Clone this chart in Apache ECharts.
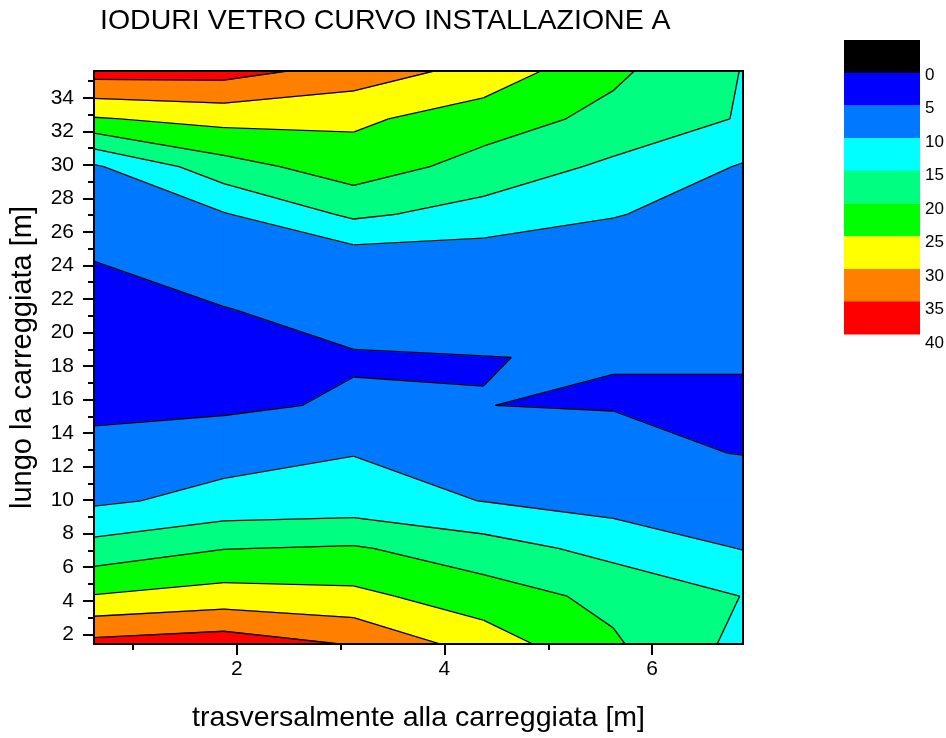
<!DOCTYPE html>
<html>
<head>
<meta charset="UTF-8">
<title>IODURI VETRO CURVO INSTALLAZIONE A</title>
<script src="https://cdn.jsdelivr.net/npm/echarts@6/dist/echarts.min.js"></script>
<style>
  html, body { margin: 0; padding: 0; background: #fff; }
  #contour { width: 946px; height: 738px; }
</style>
</head>
<body>
<div id="contour"></div>
<script>
// measurement grid: across the road (x) and along the road (y), metres
var xCols = [0.625, 1.875, 3.125, 4.375, 5.625, 6.875];
var yRows = [1.42, 4.27, 7.12, 9.96, 12.81, 15.66, 18.51, 21.36, 24.2, 27.05, 29.9, 32.75, 35.6];
// values, one row per yRows entry (bottom to top), one column per xCols entry
var zRows = [
  [36.5, 37.9, 34.66, 27.68, 20.64, 13.6],
  [25.3, 27.05, 26.25, 22.3, 18.74, 14.9],
  [16.8, 19.85, 20.5, 17.22, 13.38, 9.82],
  [9.16, 11.5, 12.03, 9.9, 8.01, 9.5],
  [6.5, 8.3, 9.86, 7.5, 6.47, 4.8],
  [3.86, 4.1, 5.58, 5.02, 4.8, 4.8],
  [3.5, 3.8, 4.6, 4.97, 5.11, 5.11],
  [4.0, 4.82, 6.93, 5.83, 6.0, 6.0],
  [4.95, 7.5, 6.7, 6.9, 6.5, 6.5],
  [7.2, 9.65, 15.9, 13.1, 10.3, 7.5],
  [9.35, 17.97, 22.65, 18.15, 14.03, 9.62],
  [24.6, 26.6, 25.92, 22.5, 18.57, 14.6],
  [37.2, 37.0, 32.93, 28.2, 21.0, 14.82]
];
var levels = [0, 5, 10, 15, 20, 25, 30, 35, 40];
var bandColors = ['#000000', '#0000ff', '#0078ff', '#00ffff', '#00ff80', '#00ff00', '#ffff00', '#ff8000', '#ff0000'];
var xTicks = [2, 4, 6];
var xMinorTicks = [1, 3, 5];
var yTicks = [2, 4, 6, 8, 10, 12, 14, 16, 18, 20, 22, 24, 26, 28, 30, 32, 34];
var yMinorTicks = [3, 5, 7, 9, 11, 13, 15, 17, 19, 21, 23, 25, 27, 29, 31, 33, 35];

var FONT = 'Liberation Sans';

// one item per grid cell (for the isolines)
var cells = [];
for (var j = 0; j < yRows.length - 1; j++) {
  for (var i = 0; i < xCols.length - 1; i++) {
    cells.push([xCols[i], yRows[j], i, j]);
  }
}
// one item per filled layer: -1 = everything, k = region above levels[k]
var layers = [[-1]];
for (var k = 0; k < levels.length - 1; k++) layers.push([k]);

function cellPoly(i, j) {
  return [
    [xCols[i], yRows[j], zRows[j][i]],
    [xCols[i + 1], yRows[j], zRows[j][i + 1]],
    [xCols[i + 1], yRows[j + 1], zRows[j + 1][i + 1]],
    [xCols[i], yRows[j + 1], zRows[j + 1][i]]
  ];
}

// keep the part of the cell where z >= t, edges linear (marching squares style)
function clipAbove(poly, t) {
  var out = [], cross = [];
  for (var k = 0; k < poly.length; k++) {
    var a = poly[k], b = poly[(k + 1) % poly.length];
    var ina = a[2] >= t, inb = b[2] >= t;
    if (ina) out.push(a);
    if (ina !== inb) {
      var f = (t - a[2]) / (b[2] - a[2]);
      var p = [a[0] + f * (b[0] - a[0]), a[1] + f * (b[1] - a[1]), t];
      out.push(p);
      cross.push({ p: p, leaving: ina });
    }
  }
  var segs = [];
  for (var c = 0; c < cross.length; c++) {
    if (cross[c].leaving) segs.push([cross[c].p, cross[(c + 1) % cross.length].p]);
  }
  return { poly: out, segs: segs };
}

function toPx(api, pts) {
  return pts.map(function (p) { return api.coord([p[0], p[1]]); });
}

function renderLayer(params, api) {
  var k = api.value(0);
  var color = bandColors[k + 1];
  var children = [];
  for (var j = 0; j < yRows.length - 1; j++) {
    for (var i = 0; i < xCols.length - 1; i++) {
      var cell = cellPoly(i, j);
      var pts;
      if (k < 0) {
        var zmin = Math.min(cell[0][2], cell[1][2], cell[2][2], cell[3][2]);
        if (zmin >= levels[0]) continue;
        pts = cell;
      } else {
        pts = clipAbove(cell, levels[k]).poly;
        if (pts.length < 3) continue;
      }
      children.push({ type: 'polygon', shape: { points: toPx(api, pts) },
        style: { fill: color, stroke: color, lineWidth: 1.2, lineJoin: 'round' } });
    }
  }
  return { type: 'group', children: children };
}

function renderLines(params, api) {
  var cell = cellPoly(api.value(2), api.value(3));
  var children = [];
  for (var k = 0; k < levels.length; k++) {
    clipAbove(cell, levels[k]).segs.forEach(function (s) {
      children.push({ type: 'polyline', shape: { points: toPx(api, s) },
        style: { stroke: '#000', lineWidth: 1.3, fill: null } });
    });
  }
  return { type: 'group', children: children };
}

// colour scale on the right
var scaleGraphic = [];
bandColors.forEach(function (c, k) {
  scaleGraphic.push({ type: 'rect', shape: { x: 844, y: 40 + k * 32.7, width: 76, height: 33 },
    style: { fill: c }, silent: true });
});
levels.forEach(function (v, k) {
  scaleGraphic.push({ type: 'text', x: 925, y: 75 + k * 33.5, silent: true,
    style: { text: String(v), fontSize: 17, fontFamily: FONT, fill: '#000', verticalAlign: 'middle', align: 'left' } });
});

function frameAxis(pos) {
  return {
    type: 'value', position: pos, z: 10,
    min: pos === 'top' ? xCols[0] : yRows[0],
    max: pos === 'top' ? xCols[xCols.length - 1] : yRows[yRows.length - 1],
    axisLine: { show: true, onZero: false, lineStyle: { color: '#000', width: 2 } },
    axisTick: { show: false }, axisLabel: { show: false }, splitLine: { show: false }
  };
}

var chart = echarts.init(document.getElementById('contour'));
var option = {
  animation: false,
  backgroundColor: '#fff',
  title: {
    text: 'IODURI VETRO CURVO INSTALLAZIONE A',
    left: 100, top: 7, padding: 0,
    textStyle: { fontFamily: FONT, fontSize: 28.5, fontWeight: 'normal', color: '#000' }
  },
  grid: {
    left: 94, right: 203, top: 71, bottom: 94,
    containLabel: false, outerBoundsMode: 'none', show: false
  },
  xAxis: [{
    type: 'value', min: xCols[0], max: xCols[xCols.length - 1], z: 10,
    name: 'trasversalmente alla carreggiata [m]', nameLocation: 'middle', nameGap: 60,
    nameTextStyle: { fontFamily: FONT, fontSize: 28.5, color: '#000' },
    axisLine: { show: true, onZero: false, lineStyle: { color: '#000', width: 2 } },
    axisTick: { show: true, customValues: xTicks, length: 11, lineStyle: { color: '#000', width: 2 } },
    axisLabel: { customValues: xTicks, margin: 15, fontFamily: FONT, fontSize: 21, color: '#000' },
    splitLine: { show: false }
  }, {
    type: 'value', min: xCols[0], max: xCols[xCols.length - 1], position: 'bottom', offset: 0, z: 10,
    axisLine: { show: false },
    axisTick: { show: true, customValues: xMinorTicks, length: 6, lineStyle: { color: '#000', width: 2 } },
    axisLabel: { show: false },
    splitLine: { show: false }
  }, frameAxis('top')],
  yAxis: [{
    type: 'value', min: yRows[0], max: yRows[yRows.length - 1], z: 10,
    name: 'lungo la carreggiata [m]', nameLocation: 'middle', nameGap: 57, nameRotate: 90,
    nameTextStyle: { fontFamily: FONT, fontSize: 29, color: '#000' },
    axisLine: { show: true, onZero: false, lineStyle: { color: '#000', width: 2 } },
    axisTick: { show: true, customValues: yTicks, length: 11, lineStyle: { color: '#000', width: 2 } },
    axisLabel: { customValues: yTicks, margin: 20, fontFamily: FONT, fontSize: 21, color: '#000' },
    splitLine: { show: false }
  }, {
    type: 'value', min: yRows[0], max: yRows[yRows.length - 1], position: 'left', offset: 0, z: 10,
    axisLine: { show: false },
    axisTick: { show: true, customValues: yMinorTicks, length: 6, lineStyle: { color: '#000', width: 2 } },
    axisLabel: { show: false },
    splitLine: { show: false }
  }, frameAxis('right')],
  graphic: scaleGraphic,
  series: [{
    type: 'custom', name: 'bande', silent: true, z: 2, clip: true,
    renderItem: renderLayer, data: layers,
    encode: { x: -1, y: -1 }
  }, {
    type: 'custom', name: 'isolinee', silent: true, z: 3, clip: true,
    renderItem: renderLines, data: cells,
    encode: { x: 0, y: 1 }
  }]
};
chart.setOption(option);
</script>
</body>
</html>
